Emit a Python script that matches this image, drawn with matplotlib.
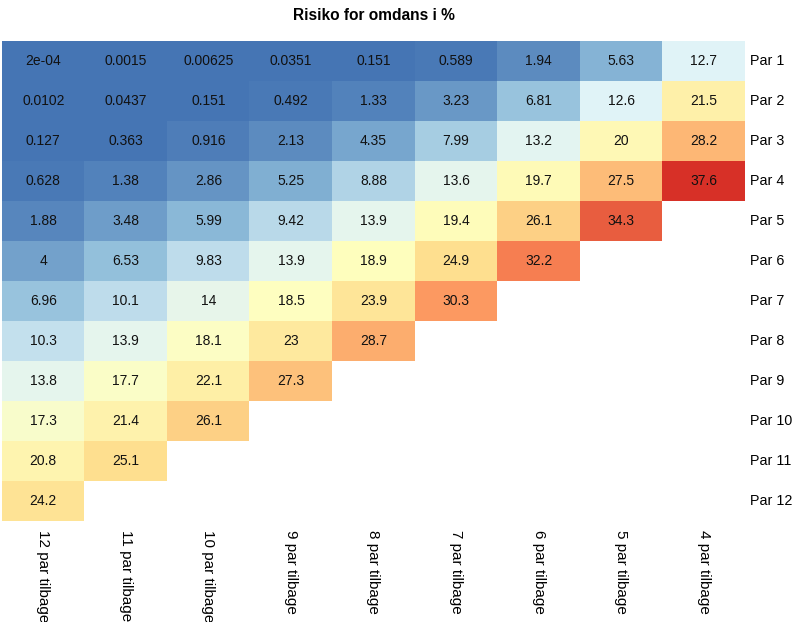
import numpy as np
import matplotlib
matplotlib.use("Agg")
import matplotlib.pyplot as plt
from matplotlib.colors import ListedColormap, Normalize, to_rgb

plt.rcParams['font.family'] = ['Liberation Sans', 'DejaVu Sans']

title = "Risiko for omdans i %"
col_labels = ["12 par tilbage", "11 par tilbage", "10 par tilbage", "9 par tilbage",
              "8 par tilbage", "7 par tilbage", "6 par tilbage", "5 par tilbage", "4 par tilbage"]
row_labels = ["Par %d" % i for i in range(1, 13)]

NA = np.nan
par1 = [2e-04, 0.0015, 0.00625, 0.0351, 0.151, 0.589, 1.94, 5.63, 12.7]
par2 = [0.0102, 0.0437, 0.151, 0.492, 1.33, 3.23, 6.81, 12.6, 21.5]
par3 = [0.127, 0.363, 0.916, 2.13, 4.35, 7.99, 13.2, 20, 28.2]
par4 = [0.628, 1.38, 2.86, 5.25, 8.88, 13.6, 19.7, 27.5, 37.6]
par5 = [1.88, 3.48, 5.99, 9.42, 13.9, 19.4, 26.1, 34.3, NA]
par6 = [4, 6.53, 9.83, 13.9, 18.9, 24.9, 32.2, NA, NA]
par7 = [6.96, 10.1, 14, 18.5, 23.9, 30.3, NA, NA, NA]
par8 = [10.3, 13.9, 18.1, 23, 28.7, NA, NA, NA, NA]
par9 = [13.8, 17.7, 22.1, 27.3, NA, NA, NA, NA, NA]
par10 = [17.3, 21.4, 26.1, NA, NA, NA, NA, NA, NA]
par11 = [20.8, 25.1, NA, NA, NA, NA, NA, NA, NA]
par12 = [24.2, NA, NA, NA, NA, NA, NA, NA, NA]

data = np.array([par1, par2, par3, par4, par5, par6, par7, par8, par9, par10, par11, par12], dtype=float)

# pheatmap default palette: colorRampPalette(rev(brewer.pal(7, "RdYlBu")))(100)
base = ["#4575B4", "#91BFDB", "#E0F3F8", "#FFFFBF", "#FEE090", "#FC8D59", "#D73027"]
base_rgb = np.array([to_rgb(c) for c in base])
pos = np.linspace(0, 1, len(base))
t = np.linspace(0, 1, 100)
cols = np.column_stack([np.interp(t, pos, base_rgb[:, k]) for k in range(3)])
cmap = ListedColormap(cols)
cmap.set_bad("white")

W, H = 801, 622
fig = plt.figure(figsize=(W / 100, H / 100), dpi=100)
left, right, top, bottom = 2, 745, 41, 521
ax = fig.add_axes([left / W, 1 - bottom / H, (right - left) / W, (bottom - top) / H])

vmin, vmax = np.nanmin(data), np.nanmax(data)
ax.imshow(np.ma.masked_invalid(data), cmap=cmap, norm=Normalize(vmin, vmax),
          aspect='auto', interpolation='nearest')
ax.set_xlim(-0.5, data.shape[1] - 0.5)
ax.set_ylim(data.shape[0] - 0.5, -0.5)
for s in ax.spines.values():
    s.set_visible(False)
ax.set_xticks([])
ax.set_yticks([])


def fmt(v):
    if v < 1e-3:
        m, e = ("%.0e" % v).split("e")
        return "%se%s%02d" % (m, e[0], abs(int(e)))
    s = "%.3g" % v
    return s


for i in range(data.shape[0]):
    for j in range(data.shape[1]):
        v = data[i, j]
        if not np.isnan(v):
            ax.text(j, i, fmt(v), ha='center', va='center', fontsize=10, color='#111111')

for i, lab in enumerate(row_labels):
    ax.annotate(lab, xy=(1, i), xycoords=('axes fraction', 'data'),
                xytext=(5, 0), textcoords='offset pixels', ha='left', va='center',
                fontsize=10.3, color='black')
for j, lab in enumerate(col_labels):
    ax.annotate(lab, xy=(j, 0), xycoords=('data', 'axes fraction'),
                xytext=(0, -9), textcoords='offset pixels', ha='center', va='top',
                rotation=270, fontsize=11, color='black')

fig.text(((left + right) / 2) / W, 1 - 16 / H, title, ha='center', va='center',
         fontsize=11.2, fontweight='bold')

fig.savefig("out.png", dpi=100, facecolor='white')
